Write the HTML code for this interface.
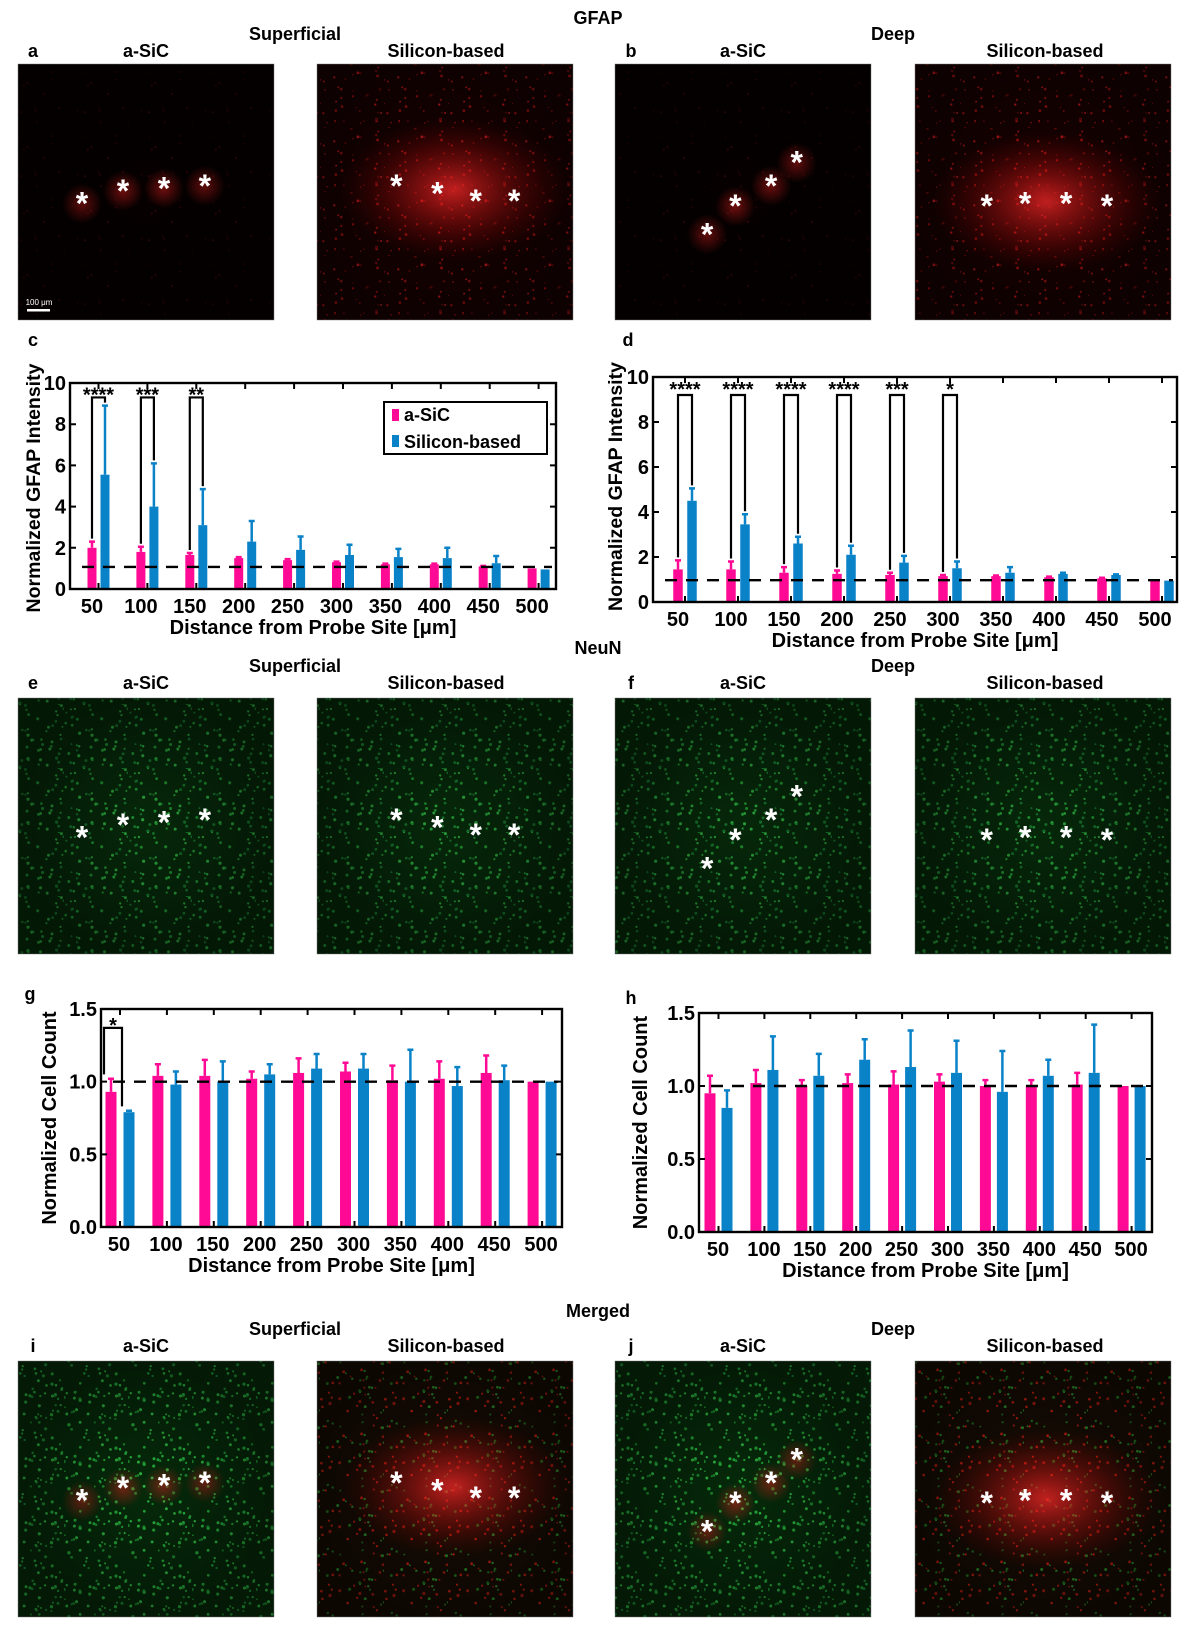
<!DOCTYPE html>
<html><head><meta charset="utf-8"><style>
html,body{margin:0;padding:0;background:#fff;}
svg{display:block;font-family:"Liberation Sans",Arial,sans-serif;font-weight:bold;}
</style></head><body>
<svg id="fig" width="1188" height="1631" viewBox="0 0 1188 1631" xmlns="http://www.w3.org/2000/svg">
<defs>
<radialGradient id="gWeak"><stop offset="0" stop-color="#ff2020" stop-opacity="0.45"/><stop offset="1" stop-color="#ff2020" stop-opacity="0"/></radialGradient>
<radialGradient id="gStrong"><stop offset="0" stop-color="#ff2a2a" stop-opacity="0.75"/><stop offset="0.6" stop-color="#d01010" stop-opacity="0.3"/><stop offset="1" stop-color="#a00000" stop-opacity="0"/></radialGradient>
<radialGradient id="gDark"><stop offset="0" stop-color="#000" stop-opacity="0"/><stop offset="1" stop-color="#000" stop-opacity="0.4"/></radialGradient>
</defs>
<g id="imgs"></g>
<g id="labels"></g>
<g id="charts"></g>
</svg>
<script>
// ===== data =====
const cats = ['50','100','150','200','250','300','350','400','450','500'];
const cSiC = [2.0,1.8,1.65,1.5,1.4,1.3,1.2,1.2,1.1,1.0];
const cSiCErr = [0.3,0.25,0.1,0.05,0.05,0.03,0.03,0.03,0.02,0.0];
const cSi = [5.55,4.0,3.1,2.3,1.9,1.65,1.55,1.5,1.25,0.95];
const cSiErr = [3.35,2.1,1.75,1.0,0.65,0.5,0.4,0.5,0.35,0.0];
const dSiC = [1.45,1.45,1.3,1.25,1.2,1.15,1.15,1.1,1.05,0.95];
const dSiCErr = [0.4,0.35,0.25,0.15,0.1,0.05,0.03,0.03,0.03,0.0];
const dSi = [4.5,3.45,2.6,2.1,1.75,1.5,1.3,1.25,1.2,0.95];
const dSiErr = [0.55,0.45,0.3,0.4,0.3,0.3,0.25,0.05,0.03,0.0];
const gSiC = [0.93,1.04,1.04,1.02,1.06,1.07,1.01,1.02,1.06,1.0];
const gSiCErr = [0.09,0.08,0.11,0.05,0.1,0.06,0.1,0.12,0.12,0.0];
const gSi = [0.79,0.98,1.0,1.05,1.09,1.09,1.0,0.97,1.01,1.0];
const gSiErr = [0.01,0.09,0.14,0.07,0.1,0.1,0.22,0.13,0.1,0.0];
const hSiC = [0.95,1.02,1.0,1.02,1.01,1.03,1.0,1.0,1.01,1.0];
const hSiCErr = [0.12,0.09,0.04,0.06,0.09,0.05,0.04,0.04,0.08,0.0];
const hSi = [0.85,1.11,1.07,1.18,1.13,1.09,0.96,1.07,1.09,1.0];
const hSiErr = [0.12,0.23,0.15,0.14,0.25,0.22,0.28,0.11,0.33,0.0];
const gfapTicks = [0,2,4,6,8,10];
const gfapTickLabels = ['0','2','4','6','8','10'];
const cellTicks = [0,0.5,1.0,1.5];
const cellTickLabels = ['0.0','0.5','1.0','1.5'];
const cSig = ['****','***','**'];
const dSig = ['****','****','****','****','***','*'];
const gSig = ['*'];

const NS='http://www.w3.org/2000/svg';
function el(parent, tag, attrs){const e=document.createElementNS(NS,tag);for(const k in attrs)e.setAttribute(k,attrs[k]);parent.appendChild(e);return e;}
function txt(parent,x,y,s,size,anchor){const t=el(parent,'text',{x:x,y:y,'font-size':size,'text-anchor':anchor||'middle'});t.textContent=s;return t;}

// ===== texture patterns (decorative) =====
const defs=document.querySelector('defs');
let seed=7;function rnd(){seed=(seed*16807)%2147483647;return seed/2147483647;}
function makePattern(id,bg,colors,n,rmin,rmax){
 const p=el(defs,'pattern',{id:id,width:64,height:64,patternUnits:'userSpaceOnUse'});
 el(p,'rect',{width:64,height:64,fill:bg});
 for(let k=0;k<n;k++){el(p,'circle',{cx:(rnd()*64).toFixed(1),cy:(rnd()*64).toFixed(1),r:(rmin+rnd()*(rmax-rmin)).toFixed(2),fill:colors[k%colors.length]});}
}
makePattern('pRedWeak','#060000',['#3a0404','#2a0303'],14,0.6,1.1);
makePattern('pRedStrong','#180101',['#9a1010','#6a0a0a','#c01818'],40,0.6,1.5);
makePattern('pGreen','#06280a',['#1e8c30','#15702a','#28a03a'],60,1.0,1.6);
makePattern('pMergeA','#062a0a',['#22a838','#1a8a2e','#2cb842'],60,1.0,1.7);
makePattern('pMergeB','#160c04',['#2a8a2a','#a01a10','#1f7020','#c02010'],54,0.9,1.6);

// ===== labels =====
const LB=document.getElementById('labels');
const labelDefs=[
 ['GFAP',598,24,18,'gfap-title'],['Superficial',295,40,18,'superficial-title-1'],['Deep',893,40,18,'deep-title-1'],
 ['a',33,57,18,'panel-a'],['a-SiC',146,57,18,'a-sic-label-a'],['Silicon-based',446,57,18,'silicon-label-a'],
 ['b',631,57,18,'panel-b'],['a-SiC',743,57,18,'a-sic-label-b'],['Silicon-based',1045,57,18,'silicon-label-b'],
 ['c',33,346,18,'panel-c'],['d',628,346,18,'panel-d'],
 ['NeuN',598,654,18,'neun-title'],['Superficial',295,672,18,'superficial-title-2'],['Deep',893,672,18,'deep-title-2'],
 ['e',33,689,18,'panel-e'],['a-SiC',146,689,18,'a-sic-label-e'],['Silicon-based',446,689,18,'silicon-label-e'],
 ['f',631,689,18,'panel-f'],['a-SiC',743,689,18,'a-sic-label-f'],['Silicon-based',1045,689,18,'silicon-label-f'],
 ['g',30,1000,18,'panel-g'],['h',631,1004,18,'panel-h'],
 ['Merged',598,1317,18,'merged-title'],['Superficial',295,1335,18,'superficial-title-3'],['Deep',893,1335,18,'deep-title-3'],
 ['i',33,1352,18,'panel-i'],['a-SiC',146,1352,18,'a-sic-label-i'],['Silicon-based',446,1352,18,'silicon-label-i'],
 ['j',631,1352,18,'panel-j'],['a-SiC',743,1352,18,'a-sic-label-j'],['Silicon-based',1045,1352,18,'silicon-label-j']
];
labelDefs.forEach(d=>{const t=txt(LB,d[1],d[2],d[0],d[3]);

});

// ===== images =====
const IM=document.getElementById('imgs');
const colsX=[18,317,615,915];
const rowsY=[64,698,1361];
const stars=[
 [[.25,.53],[.41,.48],[.57,.47],[.73,.46]],
 [[.31,.46],[.47,.49],[.62,.52],[.77,.52]],
 [[.36,.65],[.47,.54],[.61,.46],[.71,.37]],
 [[.28,.54],[.43,.53],[.59,.53],[.75,.54]]
];
const fills=[
 ['url(#pRedWeak)','url(#pRedStrong)','url(#pRedWeak)','url(#pRedStrong)'],
 ['url(#pGreen)','url(#pGreen)','url(#pGreen)','url(#pGreen)'],
 ['url(#pMergeA)','url(#pMergeB)','url(#pMergeA)','url(#pMergeB)']
];
const rowNames=['gfap','neun','merged'];
const colNames=['superficial-a-sic','superficial-silicon','deep-a-sic','deep-silicon'];
rowsY.forEach((ry,r)=>{colsX.forEach((cx,c)=>{
 const g=el(IM,'g',{});
 
 
 el(g,'rect',{x:cx,y:ry,width:256,height:256,fill:fills[r][c],stroke:'#999','stroke-width':0.6});
 const s=stars[c];const mx=(s[0][0]+s[3][0])/2*256+cx, my=(s[0][1]+s[3][1])/2*256+ry;
 if(r!==1){
  const strong=(c%2===1);
  if(strong){el(g,'ellipse',{cx:mx,cy:my,rx:115,ry:70,fill:'url(#gStrong)'});}
  else{s.forEach(p=>el(g,'circle',{cx:cx+p[0]*256,cy:ry+p[1]*256+4,r:20,fill:'url(#gWeak)'}));}
 }
 el(g,'rect',{x:cx,y:ry,width:256,height:256,fill:'url(#gDark)'});
 s.forEach(p=>{const t=txt(g,cx+p[0]*256,ry+p[1]*256+15,'*',32);t.setAttribute('fill','#fff');
  
  });
});});
const sb=el(IM,'g',{});


el(sb,'rect',{x:27,y:309,width:23,height:2.5,fill:'#fff'});
const sbt=txt(sb,39,305,'100 μm',8);sbt.setAttribute('fill','#fff');sbt.setAttribute('font-weight','normal');

// ===== charts =====
const CH=document.getElementById('charts');
const PINK='#ff0a94', BLUE='#0a82c8';
function drawChart(name,L,pink,pinkErr,blue,blueErr,ticks,tickLabels,sig){
 const g=el(CH,'g',{});
 
 
 const ymax=ticks[ticks.length-1];
 const y=v=>L.bottom-(v/ymax)*(L.bottom-L.top);
 const x=i=>L.first+i*L.step;
 cats.forEach((c,i)=>{
  [[pink,pinkErr,PINK,0,'a-sic'],[blue,blueErr,BLUE,L.off,'silicon']].forEach(s=>{
   const cx=x(i)+s[3], v=s[0][i], e=s[1][i];
   const b=el(g,'rect',{x:cx-L.bw/2,y:y(v),width:L.bw,height:L.bottom-y(v),fill:s[2]});
   
   
   if(e>0){
    const eb=el(g,'path',{d:`M${cx},${y(v)}V${y(v+e)}M${cx-3},${y(v+e)}H${cx+3}`,stroke:s[2],'stroke-width':2.5,fill:'none'});
    
    
   }
  });
 });
 const dl=el(g,'line',{x1:L.left+12,x2:L.right-4,y1:y(L.dash),y2:y(L.dash),stroke:'#000','stroke-width':2.4,'stroke-dasharray':'12,9'});
 
 
 const fr=el(g,'rect',{x:L.left,y:L.top,width:L.right-L.left,height:L.bottom-L.top,fill:'none',stroke:'#000','stroke-width':2.4});
 
 
 ticks.forEach((t,k)=>{
  el(g,'path',{d:`M${L.left},${y(t)}h6M${L.right},${y(t)}h-6`,stroke:'#000','stroke-width':2});
  const tl=txt(g,L.left-4,y(t)+7,tickLabels[k],20,'end');
  
  
 });
 cats.forEach((c,i)=>{
  const cx=x(i)+L.off/2;
  el(g,'path',{d:`M${cx},${L.top}v6M${cx},${L.bottom}v-6`,stroke:'#000','stroke-width':2});
  const tl=txt(g,x(i)+L.lab,L.bottom+24,c,20);
  
  
 });
 const xt=txt(g,(L.left+L.right)/2,L.bottom+45,'Distance from Probe Site [μm]',20);
 
 
 const ymid=(L.top+L.bottom)/2+L.ytShift;
 const yt=txt(g,L.ytx,ymid,L.ytitle,L.ytSize||20);
 yt.setAttribute('transform',`rotate(-90 ${L.ytx} ${ymid})`);
 
 
 sig.forEach((s,i)=>{
  const x1=x(i)+(L.bx1||0), x2=x(i)+L.off+(L.bx2||0);
  const top=y(L.brTop);
  const b1=L.leg1!==undefined?y(L.leg1):y(pink[i]+pinkErr[i])-3;
  const b2=L.leg2!==undefined?y(L.leg2):y(blue[i]+blueErr[i])-3;
  const br=el(g,'path',{d:`M${x1},${b1}V${top}H${x2}V${b2}`,stroke:'#000','stroke-width':2.2,fill:'none'});
  
  
  const st=txt(g,(x1+x2)/2,top+L.starDy,s,20);
  
  
 });
 return {g,y,x};
}
const Lc={left:70,right:556,top:383,bottom:589,first:92,step:48.9,off:13,bw:9,lab:0,dash:1.07,ytx:40,ytitle:'Normalized GFAP Intensity',ytShift:2,ytSize:19.5,brTop:9.3,starDy:4};
const Ld={left:653,right:1177,top:377,bottom:602,first:678,step:53,off:14,bw:9.5,lab:0,dash:0.97,ytx:622,ytitle:'Normalized GFAP  Intensity',ytShift:-3,ytSize:19.5,brTop:9.2,starDy:1};
const Lg={left:101,right:562,top:1009,bottom:1227,first:111,step:46.9,off:18,bw:11,lab:8,dash:1.0,ytx:56,ytitle:'Normalized Cell Count',ytShift:0,brTop:1.37,starDy:4,bx1:-7,bx2:-7,leg1:1.05,leg2:0.83};
const Lh={left:699,right:1152,top:1013,bottom:1232,first:710,step:45.9,off:17,bw:11,lab:8,dash:1.0,ytx:647,ytitle:'Normalized Cell Count',ytShift:0};
drawChart('chart-c-gfap-superficial',Lc,cSiC,cSiCErr,cSi,cSiErr,gfapTicks,gfapTickLabels,cSig);
drawChart('chart-d-gfap-deep',Ld,dSiC,dSiCErr,dSi,dSiErr,gfapTicks,gfapTickLabels,dSig);
drawChart('chart-g-neun-superficial',Lg,gSiC,gSiCErr,gSi,gSiErr,cellTicks,cellTickLabels,gSig);
drawChart('chart-h-neun-deep',Lh,hSiC,hSiCErr,hSi,hSiErr,cellTicks,cellTickLabels,[]);

const lg=el(CH,'g',{});


el(lg,'rect',{x:384,y:402,width:163,height:52,fill:'#fff',stroke:'#000','stroke-width':2});
const e1=el(lg,'g',{});


el(e1,'rect',{x:392,y:409,width:7,height:12,fill:PINK});
txt(e1,404,421,'a-SiC',18,'start');
const e2=el(lg,'g',{});


el(e2,'rect',{x:392,y:435,width:7,height:12,fill:BLUE});
txt(e2,404,448,'Silicon-based',18,'start');
</script>
</body></html>
